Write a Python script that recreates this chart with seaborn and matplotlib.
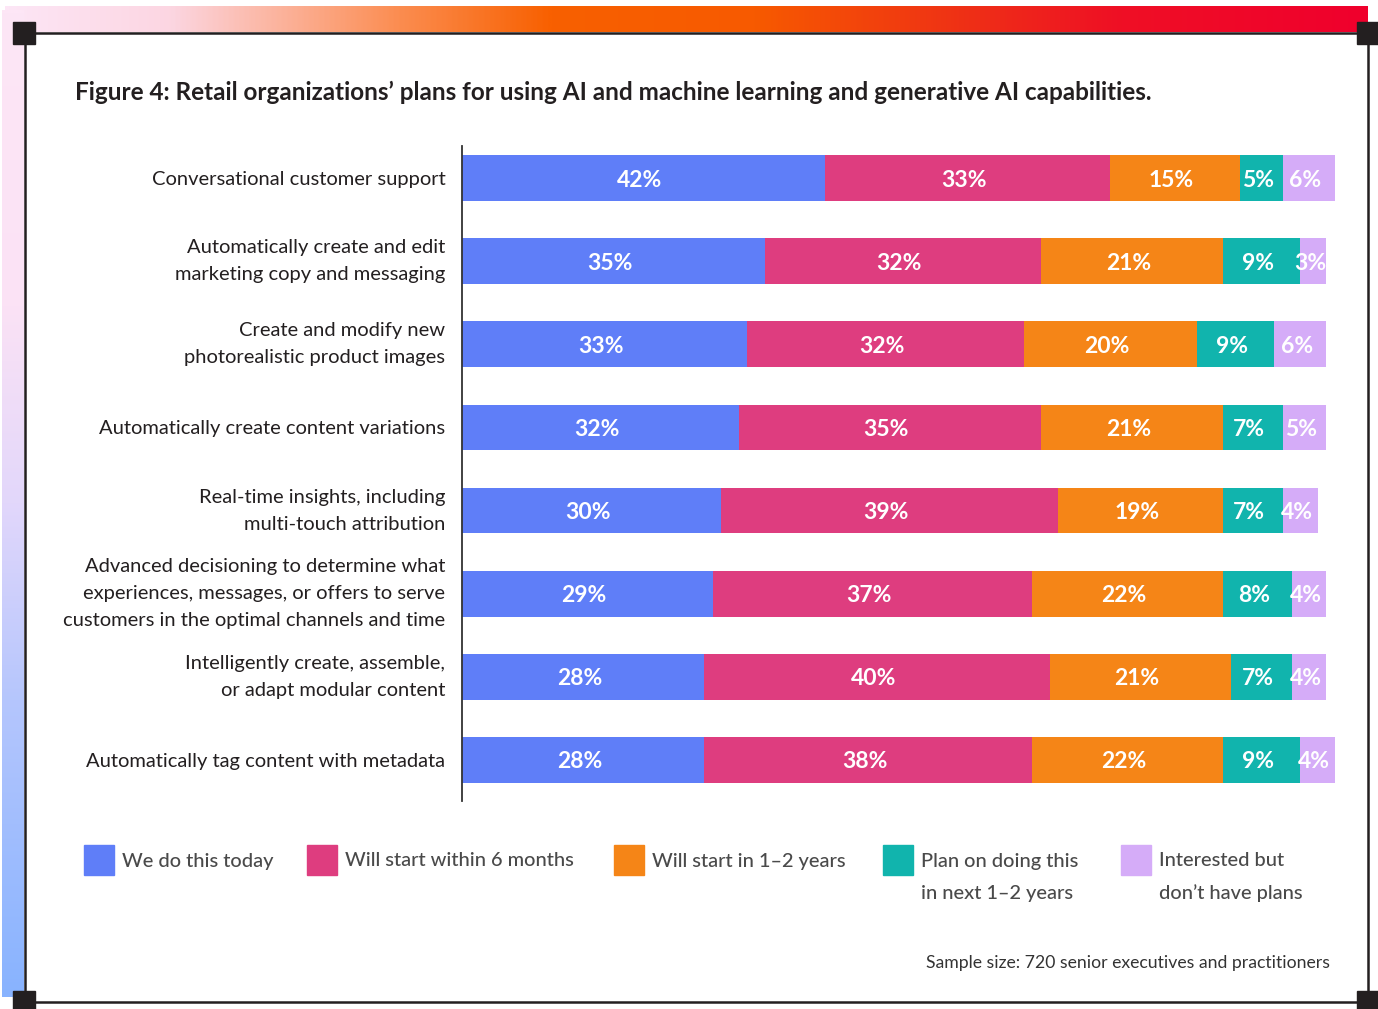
import numpy as np
import pandas as pd
import matplotlib
matplotlib.use("Agg")
import matplotlib.pyplot as plt
import seaborn as sns
from matplotlib.colors import LinearSegmentedColormap
from matplotlib.patches import Rectangle

# ---------------- data ----------------
categories = [
    "Conversational customer support",
    "Automatically create and edit\nmarketing copy and messaging",
    "Create and modify new\nphotorealistic product images",
    "Automatically create content variations",
    "Real-time insights, including\nmulti-touch attribution",
    "Advanced decisioning to determine what\nexperiences, messages, or offers to serve\ncustomers in the optimal channels and time",
    "Intelligently create, assemble,\nor adapt modular content",
    "Automatically tag content with metadata",
]
series_names = [
    "We do this today",
    "Will start within 6 months",
    "Will start in 1\u20132 years",
    "Plan on doing this\nin next 1\u20132 years",
    "Interested but\ndon\u2019t have plans",
]
today = [42, 35, 33, 32, 30, 29, 28, 28]
within_6_months = [33, 32, 32, 35, 39, 37, 40, 38]
in_1_2_years = [15, 21, 20, 21, 19, 22, 21, 22]
plan_next_1_2 = [5, 9, 9, 7, 7, 8, 7, 9]
interested = [6, 3, 6, 5, 4, 4, 4, 4]
title = "Figure 4: Retail organizations\u2019 plans for using AI and machine learning and generative AI capabilities."
note = "Sample size: 720 senior executives and practitioners"

colors = ["#5f7ef8", "#de3d7f", "#f58517", "#11b4ad", "#d5acf8"]

# ---------------- setup ----------------
sns.set_theme(style="white")
plt.rcParams["font.family"] = ["Lato", "DejaVu Sans"]

W, H = 1378, 1009
fig = plt.figure(figsize=(W / 100, H / 100), dpi=100)
fig.patch.set_facecolor("white")

# background / decoration axes in pixel coordinates
bg = fig.add_axes([0, 0, 1, 1], zorder=0)
bg.set_xlim(0, W)
bg.set_ylim(H, 0)
bg.axis("off")

top_cmap = LinearSegmentedColormap.from_list(
    "top",
    [(0.0, "#fde6f6"), (0.12, "#fcd6e2"), (0.29, "#fb8c4f"), (0.40, "#f86000"),
     (0.55, "#f75a00"), (0.72, "#ee2c18"), (0.82, "#ef0f25"), (1.0, "#f0002d")])
bg.imshow(np.linspace(0, 1, 512)[None, :], cmap=top_cmap, aspect="auto",
          extent=(5, 1368, 32, 6), zorder=1, interpolation="bilinear")
left_cmap = LinearSegmentedColormap.from_list(
    "left",
    [(0.0, "#fde6f6"), (0.3, "#fbe2f5"), (0.5, "#e2d7fb"), (0.7, "#b5c6fd"), (1.0, "#88b3ff")])
bg.imshow(np.linspace(0, 1, 512)[:, None], cmap=left_cmap, aspect="auto",
          extent=(2, 24, 997, 10), zorder=1, interpolation="bilinear")

frame_c = "#231f20"
for xs, ys in [((24, 1368), (33, 33)), ((24, 1368), (1002, 1002)),
               ((25, 25), (33, 1002)), ((1368, 1368), (33, 1002))]:
    bg.plot(xs, ys, color=frame_c, lw=1.8, solid_capstyle="butt", zorder=2)
for cx, cy in [(24, 33), (1368, 33), (24, 1002), (1368, 1002)]:
    bg.add_patch(Rectangle((cx - 11, cy - 11), 22, 22, color=frame_c, zorder=3))

bg.text(75, 92, title, fontsize=17.45, fontweight="bold", color="#231f20",
        ha="left", va="center")
bg.text(1330, 963, note, fontsize=12.7, color="#333333", ha="right", va="center")

# legend (manual, pixel coordinates)
leg_sq_x = [84, 307, 614, 883, 1121]
for name, c, sx in zip(series_names, colors, leg_sq_x):
    bg.add_patch(Rectangle((sx, 845), 30, 30, color=c, zorder=3))
    for k, line in enumerate(name.split("\n")):
        bg.text(sx + 38, 861 + 32 * k, line, fontsize=14.4, color="#4a4a4a",
                fontweight="medium", ha="left", va="center")

# ---------------- chart ----------------
ax = fig.add_axes([462 / W, 1 - 801 / H, 878 / W, (801 - 146) / H], zorder=2)
ax.patch.set_alpha(0)

vals = np.array([today, within_6_months, in_1_2_years, plan_next_1_2, interested], dtype=float)
cum = np.cumsum(vals, axis=0)
df = pd.DataFrame({"category": categories})
for i in range(len(series_names)):
    df[f"cum{i}"] = cum[i]

for i in reversed(range(len(series_names))):
    sns.barplot(data=df, x=f"cum{i}", y="category", orient="h", color=colors[i],
                saturation=1, width=0.55, linewidth=0, ax=ax, errorbar=None)

for i in range(len(series_names)):
    for j in range(len(categories)):
        xc = cum[i, j] - vals[i, j] / 2 - 0.4
        ax.text(xc, j, f"{int(vals[i, j])}%", color="white", fontsize=16.5,
                fontweight="bold", ha="center", va="center_baseline")

ax.set_xlim(0, 878 / (363 / 42))
ax.set_ylim(7.494, -0.386)
ax.set_xlabel("")
ax.set_ylabel("")
ax.set_xticks([])
ax.tick_params(axis="y", length=0, pad=12, labelsize=14.5, labelcolor="#231f20")
for lab in ax.get_yticklabels():
    lab.set_multialignment("right")
    lab.set_linespacing(1.72)
    if "\n" in lab.get_text():
        lab.set_verticalalignment("center")
for s in ["top", "right", "bottom"]:
    ax.spines[s].set_visible(False)
ax.spines["left"].set_color("#333333")
ax.spines["left"].set_linewidth(1.3)

fig.savefig("out.png", dpi=100, facecolor="white")
